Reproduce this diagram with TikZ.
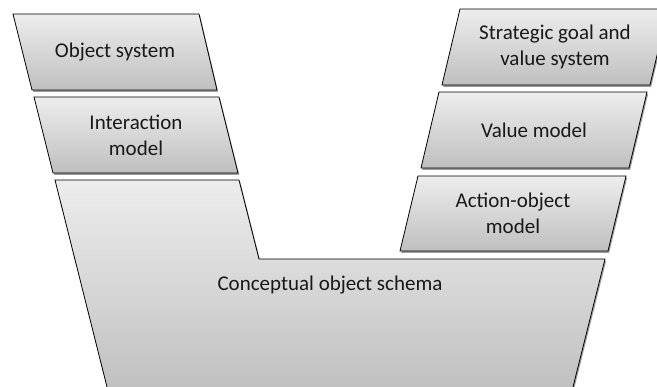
\documentclass[tikz,border=0pt]{standalone}
\usepackage{fontspec}
\setmainfont{Carlito}
\usetikzlibrary{shadows}
\tikzset{
  panel/.style={draw=black, line width=0.8pt, line join=miter,
    top color=gray!14, bottom color=gray!50,
    drop shadow={shadow xshift=1.2pt, shadow yshift=-1.8pt, opacity=0.55, fill=black!70}},
  label/.style={align=center, text=black!90, font=\fontsize{21}{26}\selectfont}
}
\begin{document}
\begin{tikzpicture}[x=1pt, y=-1pt]
\useasboundingbox (0,0) rectangle (657,387);
\begin{scope}
\clip (0,0) rectangle (657,387);
% left column
\path[panel] (13,14) -- (199,14) -- (217,90) -- (32,90) -- cycle;
\path[panel] (34,97) -- (219,97) -- (238,173) -- (53,173) -- cycle;
\path[panel] (55,180) -- (239,180) -- (259,259) -- (605,259) -- (571,395) -- (109,395) -- cycle;
% right column
\path[panel] (460,9) -- (668,9) -- (650,85) -- (442,85) -- cycle;
\path[panel] (439,92) -- (647,92) -- (629,168) -- (421,168) -- cycle;
\path[panel] (418,176) -- (626,176) -- (608,251) -- (400,251) -- cycle;
\end{scope}
\node[label] (os)  at (115,52)  {Object system};
\node[label] (im)  at (136,135) {Interaction\\model};
\node[label] (cos) at (330,285) {Conceptual object schema};
\node[label] (sg)  at (555,47)  {Strategic goal and\\value system};
\node[label] (vm)  at (534,130) {Value model};
\node[label] (ao)  at (513,213) {Action-object\\model};
\end{tikzpicture}
\end{document}
